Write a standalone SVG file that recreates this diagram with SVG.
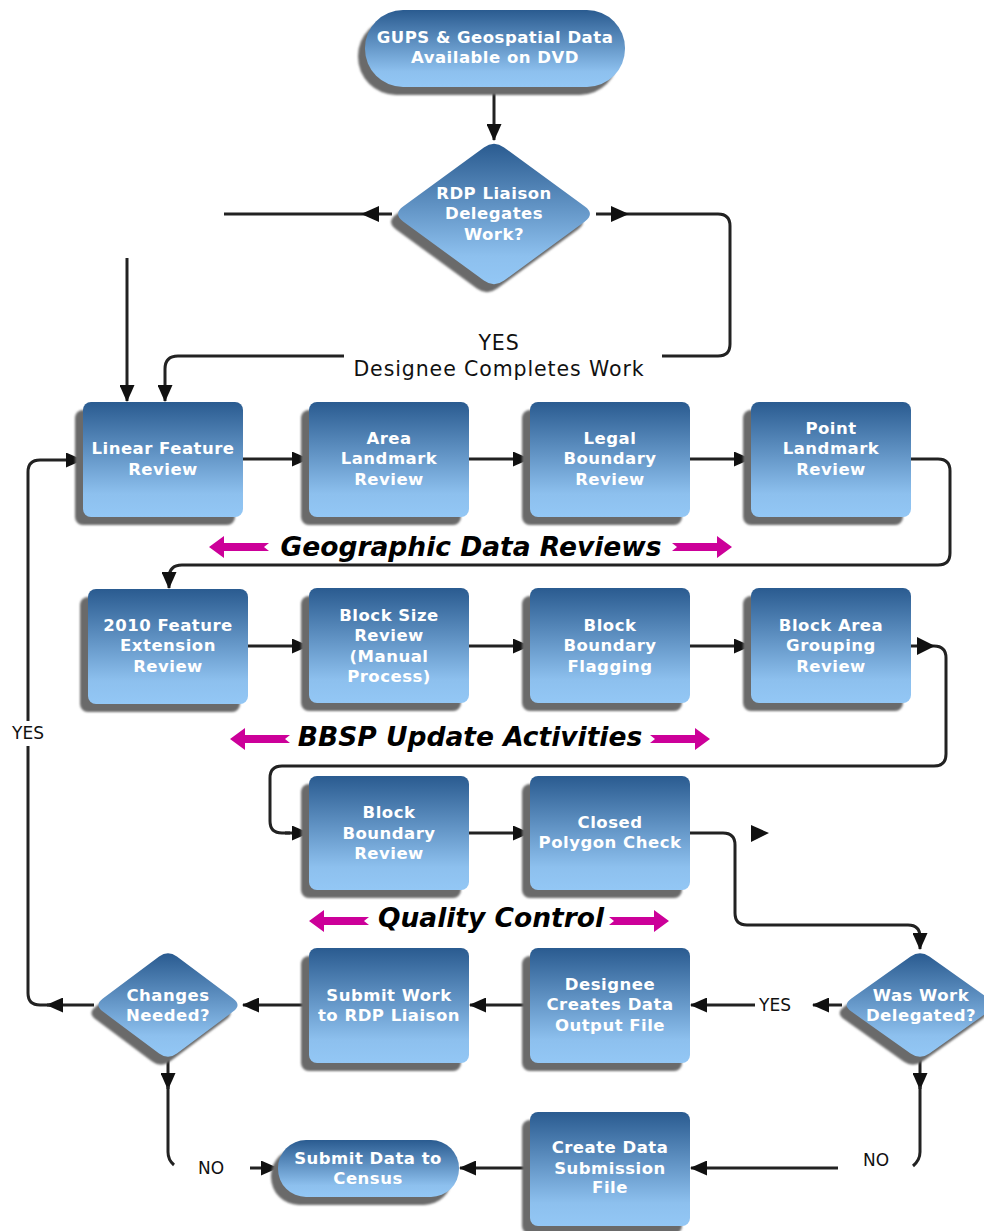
<svg xmlns="http://www.w3.org/2000/svg" xmlns:xlink="http://www.w3.org/1999/xlink" width="984" height="1231" viewBox="0 0 984 1231">
<defs>
<linearGradient id="gb" x1="0" y1="0" x2="0" y2="1">
<stop offset="0" stop-color="#2a5b90"/>
<stop offset="0.8" stop-color="#8dc0ee"/>
<stop offset="1" stop-color="#93c7f5"/>
</linearGradient>
<filter id="blur" x="-10%" y="-10%" width="120%" height="120%"><feGaussianBlur stdDeviation="1.2"/></filter>
<marker id="ah" markerUnits="userSpaceOnUse" markerWidth="17" markerHeight="15" refX="16" refY="7.5" orient="auto"><path d="M0,0 L17,7.5 L0,15 Z" fill="#111"/></marker>
<path id="dRDP" d="M10.1,-66.6 L90.9,-7.4 Q101,0 90.9,7.4 L10.1,66.6 Q0,74 -10.1,66.6 L-90.9,7.4 Q-101,0 -90.9,-7.4 L-10.1,-66.6 Q0,-74 10.1,-66.6Z"/>
<path id="dChg" d="M8.9,-48.4 L65.1,-6.6 Q74,0 65.1,6.6 L8.9,48.4 Q0,55 -8.9,48.4 L-65.1,6.6 Q-74,0 -65.1,-6.6 L-8.9,-48.4 Q0,-55 8.9,-48.4Z"/>
<path id="dWas" d="M9.4,-48.4 L68.6,-6.6 Q78,0 68.6,6.6 L9.4,48.4 Q0,55 -9.4,48.4 L-68.6,6.6 Q-78,0 -68.6,-6.6 L-9.4,-48.4 Q0,-55 9.4,-48.4Z"/>
<path id="mag" d="M0,0 L15,-11 L15,-4 L60,-4 L55,0 L60,4 L15,4 L15,11 Z"/>
<style>
.sh{fill:#6b6b6b;filter:url(#blur)}
.bx{fill:url(#gb)}
.t{font-family:"DejaVu Sans",Verdana,sans-serif;font-weight:bold;font-size:16.5px;fill:#fff;text-anchor:middle;letter-spacing:0.5px}
.lbl{font-family:"DejaVu Sans",Verdana,sans-serif;font-size:17px;fill:#111;text-anchor:middle}
.big{font-family:"DejaVu Sans",Verdana,sans-serif;font-size:20.5px;fill:#111;text-anchor:middle;letter-spacing:0.9px}
.ttl{font-family:"DejaVu Sans",Verdana,sans-serif;font-weight:bold;font-style:italic;font-size:26.5px;fill:#000;text-anchor:middle}
.c{fill:none;stroke:#222;stroke-width:3}
.ca{fill:none;stroke:#222;stroke-width:3;marker-end:url(#ah)}
.ah{fill:#111}
.mg{fill:#cc0099}
</style>
</defs>
<rect width="984" height="1231" fill="#fff"/>

<g id="connectors">
<path class="ca" d="M494,87 L494,140"/>
<path class="c" d="M392,214 L224,214"/>
<polygon class="ah" points="361,214 379,206 379,222"/>
<path class="c" d="M596,214 L718,214 Q730,214 730,226 L730,344 Q730,356 718,356 L662,356"/>
<polygon class="ah" points="629,214 611,206 611,222"/>
<path class="ca" d="M344,356 L178,356 Q165,356 165,369 L165,401"/>
<path class="ca" d="M127,258 L127,401"/>
<path class="ca" d="M243,459 L308,459"/>
<path class="ca" d="M469,459 L529,459"/>
<path class="ca" d="M690,459 L750,459"/>
<path class="ca" d="M911,459 L938,459 Q950,459 950,471 L950,553 Q950,565 938,565 L182,565 Q169,565 169,578 L169,588"/>
<path class="ca" d="M248,646 L308,646"/>
<path class="ca" d="M469,646 L529,646"/>
<path class="ca" d="M690,646 L750,646"/>
<path class="c" d="M911,646 L934,646 Q946,646 946,658 L946,754 Q946,766 934,766 L282,766 Q270,766 270,778 L270,821 Q270,833 282,833 L290,833"/>
<path class="ca" d="M285,833 L308,833"/>
<polygon class="ah" points="935,646 917,637 917,655"/>
<path class="ca" d="M469,833 L529,833"/>
<path class="ca" d="M690,833 L723,833 Q735,833 735,845 L735,913 Q735,925 747,925 L908,925 Q920,925 920,937 L920,949"/>
<polygon class="ah" points="769,833 751,825 751,842"/>
<path class="ca" d="M842,1005 L813,1005"/>
<path class="ca" d="M755,1005 L691,1005"/>
<path class="ca" d="M530,1005 L470,1005"/>
<path class="ca" d="M309,1005 L243,1005"/>
<path class="ca" d="M94,1005 L47,1005"/>
<path class="c" d="M50,1005 L40,1005 Q28,1005 28,993 L28,746"/>
<path class="ca" d="M28,721 L28,472 Q28,460 40,460 L82,460"/>
<path class="ca" d="M168,1060 L168,1089"/>
<path class="c" d="M168,1086 L168,1152 Q168,1160 174,1165"/>
<path class="ca" d="M250,1168 L277,1168"/>
<path class="ca" d="M920,1060 L920,1089"/>
<path class="c" d="M920,1086 L920,1152 Q920,1160 913,1166"/>
<path class="ca" d="M838,1168 L691,1168"/>
<path class="ca" d="M530,1168 L460,1168"/>
</g>

<g id="labels">
<text class="big" x="499" y="350">YES</text>
<text class="big" x="499" y="376">Designee Completes Work</text>
<text class="lbl" x="28" y="739">YES</text>
<text class="lbl" x="775" y="1011">YES</text>
<text class="lbl" x="211" y="1174">NO</text>
<text class="lbl" x="876" y="1166">NO</text>
</g>

<g id="n-gups">
<rect class="sh" x="358" y="18" width="260" height="77" rx="38"/>
<rect class="bx" x="365" y="10" width="260" height="77" rx="38"/>
<text class="t" x="495" y="43">GUPS &amp; Geospatial Data</text>
<text class="t" x="495" y="63">Available on DVD</text>
</g>

<g id="n-rdp">
<use href="#dRDP" class="sh" transform="translate(487,222)"/>
<use href="#dRDP" class="bx" transform="translate(494,214)"/>
<text class="t" x="494" y="199">RDP Liaison</text>
<text class="t" x="494" y="219">Delegates</text>
<text class="t" x="494" y="240">Work?</text>
</g>

<g id="n-linear">
<rect class="sh" x="75" y="410" width="160" height="115" rx="8"/>
<rect class="bx" x="83" y="402" width="160" height="115" rx="8"/>
<text class="t" x="163" y="454">Linear Feature</text>
<text class="t" x="163" y="475">Review</text>
</g>
<g id="n-area">
<rect class="sh" x="301" y="410" width="160" height="115" rx="8"/>
<rect class="bx" x="309" y="402" width="160" height="115" rx="8"/>
<text class="t" x="389" y="444">Area</text>
<text class="t" x="389" y="464">Landmark</text>
<text class="t" x="389" y="485">Review</text>
</g>
<g id="n-legal">
<rect class="sh" x="522" y="410" width="160" height="115" rx="8"/>
<rect class="bx" x="530" y="402" width="160" height="115" rx="8"/>
<text class="t" x="610" y="444">Legal</text>
<text class="t" x="610" y="464">Boundary</text>
<text class="t" x="610" y="485">Review</text>
</g>
<g id="n-point">
<rect class="sh" x="743" y="410" width="160" height="115" rx="8"/>
<rect class="bx" x="751" y="402" width="160" height="115" rx="8"/>
<text class="t" x="831" y="434">Point</text>
<text class="t" x="831" y="454">Landmark</text>
<text class="t" x="831" y="475">Review</text>
</g>

<g id="t-geo">
<use href="#mag" class="mg" transform="translate(209,547)"/>
<use href="#mag" class="mg" transform="translate(732,547) scale(-1,1)"/>
<text class="ttl" x="471" y="556">Geographic Data Reviews</text>
</g>

<g id="n-2010">
<rect class="sh" x="80" y="597" width="160" height="115" rx="8"/>
<rect class="bx" x="88" y="589" width="160" height="115" rx="8"/>
<text class="t" x="168" y="631">2010 Feature</text>
<text class="t" x="168" y="651">Extension</text>
<text class="t" x="168" y="672">Review</text>
</g>
<g id="n-blocksize">
<rect class="sh" x="301" y="596" width="160" height="115" rx="8"/>
<rect class="bx" x="309" y="588" width="160" height="115" rx="8"/>
<text class="t" x="389" y="621">Block Size</text>
<text class="t" x="389" y="641">Review</text>
<text class="t" x="389" y="662">(Manual</text>
<text class="t" x="389" y="682">Process)</text>
</g>
<g id="n-flagging">
<rect class="sh" x="522" y="596" width="160" height="115" rx="8"/>
<rect class="bx" x="530" y="588" width="160" height="115" rx="8"/>
<text class="t" x="610" y="631">Block</text>
<text class="t" x="610" y="651">Boundary</text>
<text class="t" x="610" y="672">Flagging</text>
</g>
<g id="n-grouping">
<rect class="sh" x="743" y="596" width="160" height="115" rx="8"/>
<rect class="bx" x="751" y="588" width="160" height="115" rx="8"/>
<text class="t" x="831" y="631">Block Area</text>
<text class="t" x="831" y="651">Grouping</text>
<text class="t" x="831" y="672">Review</text>
</g>

<g id="t-bbsp">
<use href="#mag" class="mg" transform="translate(230,739)"/>
<use href="#mag" class="mg" transform="translate(710,739) scale(-1,1)"/>
<text class="ttl" x="470" y="746">BBSP Update Activities</text>
</g>

<g id="n-bbreview">
<rect class="sh" x="301" y="784" width="160" height="114" rx="8"/>
<rect class="bx" x="309" y="776" width="160" height="114" rx="8"/>
<text class="t" x="389" y="818">Block</text>
<text class="t" x="389" y="839">Boundary</text>
<text class="t" x="389" y="859">Review</text>
</g>
<g id="n-closed">
<rect class="sh" x="522" y="784" width="160" height="114" rx="8"/>
<rect class="bx" x="530" y="776" width="160" height="114" rx="8"/>
<text class="t" x="610" y="828">Closed</text>
<text class="t" x="610" y="848">Polygon Check</text>
</g>

<g id="t-qc">
<use href="#mag" class="mg" transform="translate(309,921)"/>
<use href="#mag" class="mg" transform="translate(669,921) scale(-1,1)"/>
<text class="ttl" x="491" y="927">Quality Control</text>
</g>

<g id="n-changes">
<use href="#dChg" class="sh" transform="translate(161,1013)"/>
<use href="#dChg" class="bx" transform="translate(168,1005)"/>
<text class="t" x="168" y="1001">Changes</text>
<text class="t" x="168" y="1021">Needed?</text>
</g>
<g id="n-submitwork">
<rect class="sh" x="301" y="956" width="160" height="115" rx="8"/>
<rect class="bx" x="309" y="948" width="160" height="115" rx="8"/>
<text class="t" x="389" y="1001">Submit Work</text>
<text class="t" x="389" y="1021">to RDP Liaison</text>
</g>
<g id="n-designee">
<rect class="sh" x="522" y="956" width="160" height="115" rx="8"/>
<rect class="bx" x="530" y="948" width="160" height="115" rx="8"/>
<text class="t" x="610" y="990">Designee</text>
<text class="t" x="610" y="1010">Creates Data</text>
<text class="t" x="610" y="1031">Output File</text>
</g>
<g id="n-waswork">
<use href="#dWas" class="sh" transform="translate(913,1013)"/>
<use href="#dWas" class="bx" transform="translate(920,1005)"/>
<text class="t" x="921" y="1001">Was Work</text>
<text class="t" x="921" y="1021">Delegated?</text>
</g>

<g id="n-census">
<rect class="sh" x="271" y="1148" width="181" height="57" rx="28"/>
<rect class="bx" x="278" y="1140" width="181" height="57" rx="28"/>
<text class="t" x="368" y="1164">Submit Data to</text>
<text class="t" x="368" y="1184">Census</text>
</g>
<g id="n-createdata">
<rect class="sh" x="522" y="1120" width="160" height="114" rx="8"/>
<rect class="bx" x="530" y="1112" width="160" height="114" rx="8"/>
<text class="t" x="610" y="1153">Create Data</text>
<text class="t" x="610" y="1174">Submission</text>
<text class="t" x="610" y="1193">File</text>
</g>
</svg>
